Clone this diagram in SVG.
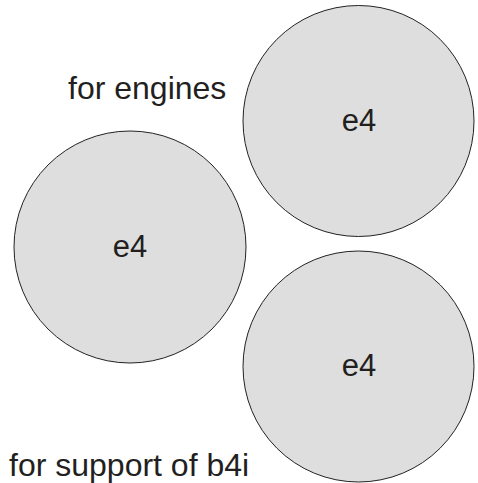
<svg xmlns="http://www.w3.org/2000/svg" width="478" height="483" viewBox="0 0 478 483">
<style>
.c{fill:#dedede;stroke:#222;stroke-width:1}
.t{font-family:"Liberation Sans",Arial,sans-serif;font-size:31px;fill:#231f20}
.l{font-size:32px}
.m{text-anchor:middle}
</style>
<rect width="478" height="483" fill="#fff"/>
<g id="node-top"><circle class="c" cx="358.5" cy="121" r="115.5"/><text class="t m" x="359" y="131">e4</text></g>
<g id="node-left"><circle class="c" cx="130" cy="247" r="116"/><text class="t m" x="130" y="257">e4</text></g>
<g id="node-bottom"><circle class="c" cx="358.5" cy="366.5" r="115.5"/><text class="t m" x="359" y="376">e4</text></g>
<g id="labels">
<text class="t l" x="9" y="476">for support of b4i</text>
<text class="t l" x="68" y="99">for engines</text>
</g>
<g id="connectors"/>
</svg>
